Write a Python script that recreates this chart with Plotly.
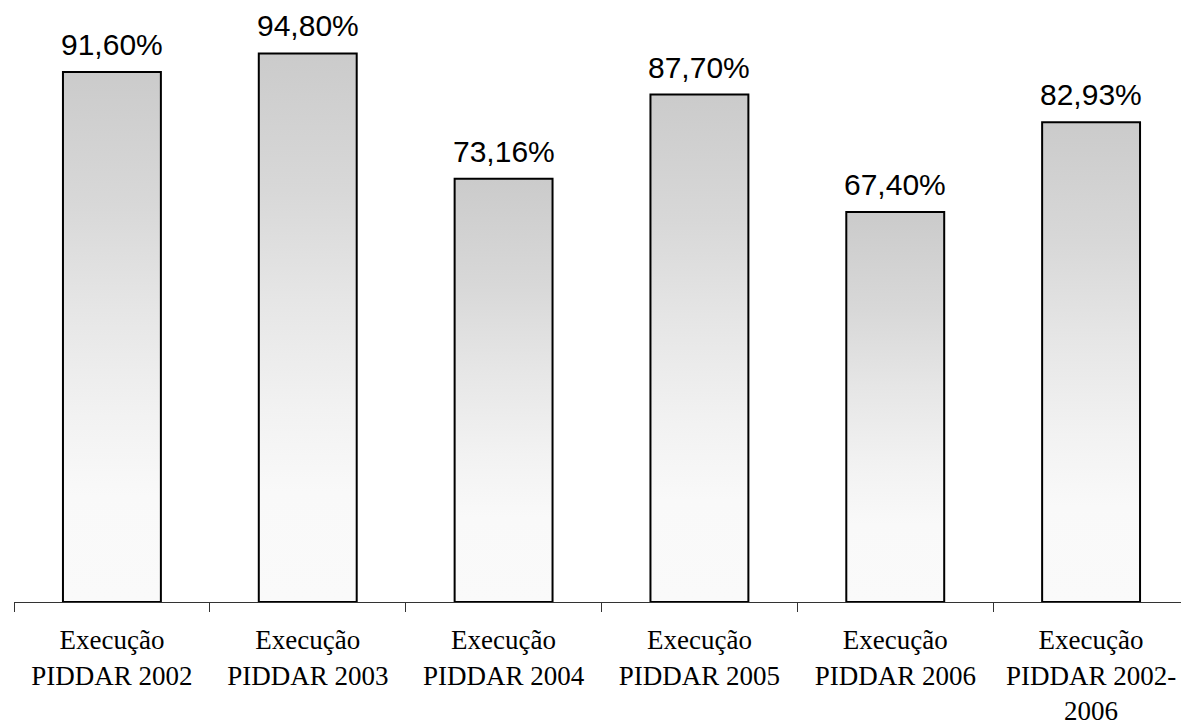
import plotly.graph_objects as go

categories = ["Execução<br>PIDDAR 2002", "Execução<br>PIDDAR 2003", "Execução<br>PIDDAR 2004",
              "Execução<br>PIDDAR 2005", "Execução<br>PIDDAR 2006", "Execução<br>PIDDAR 2002-<br>2006"]
values = [91.60, 94.80, 73.16, 87.70, 67.40, 82.93]

BAR_W = 0.5
grad = [[0.0, "#fafafa"], [0.2, "#f9f9f9"], [0.35, "#f2f2f2"], [0.55, "#e6e6e6"],
        [0.75, "#d8d8d8"], [1.0, "#cbcbcb"]]

fig = go.Figure()
for i, v in enumerate(values):
    x0, x1 = i - BAR_W / 2, i + BAR_W / 2
    fig.add_trace(go.Scatter(
        x=[x0, x0, x1, x1, x0], y=[0, v, v, 0, 0],
        mode="lines", fill="toself",
        fillgradient=dict(type="vertical", colorscale=grad, start=0, stop=v),
        line=dict(color="black", width=2),
        hoverinfo="skip", showlegend=False,
    ))
    fig.add_annotation(
        x=i, y=v, text=f"{v:.2f}%".replace(".", ","), showarrow=False,
        yanchor="bottom", yshift=9,
        font=dict(family="Liberation Sans, Arial", size=30, color="black"),
    )

fig.update_layout(
    width=1181, height=716,
    margin=dict(l=6, r=0, t=0, b=122, autoexpand=False),
    paper_bgcolor="white", plot_bgcolor="white",
    xaxis=dict(
        range=[-0.5, 5.5], tickmode="array", tickvals=list(range(len(categories))),
        ticktext=categories, ticks="", showgrid=False, zeroline=False,
        showline=True, linecolor="#333333", linewidth=1, automargin=False,
        tickfont=dict(family="Liberation Serif, Times New Roman", size=27, color="black"),
        ticklabelstandoff=14,
        minor=dict(ticks="outside", tickmode="array",
                   tickvals=[k - 0.5 for k in range(len(categories) + 1)],
                   ticklen=9, tickcolor="#333333", tickwidth=1, showgrid=False),
    ),
    yaxis=dict(range=[0, 102.66], visible=False, automargin=False),
)

fig.write_html("out.html")
